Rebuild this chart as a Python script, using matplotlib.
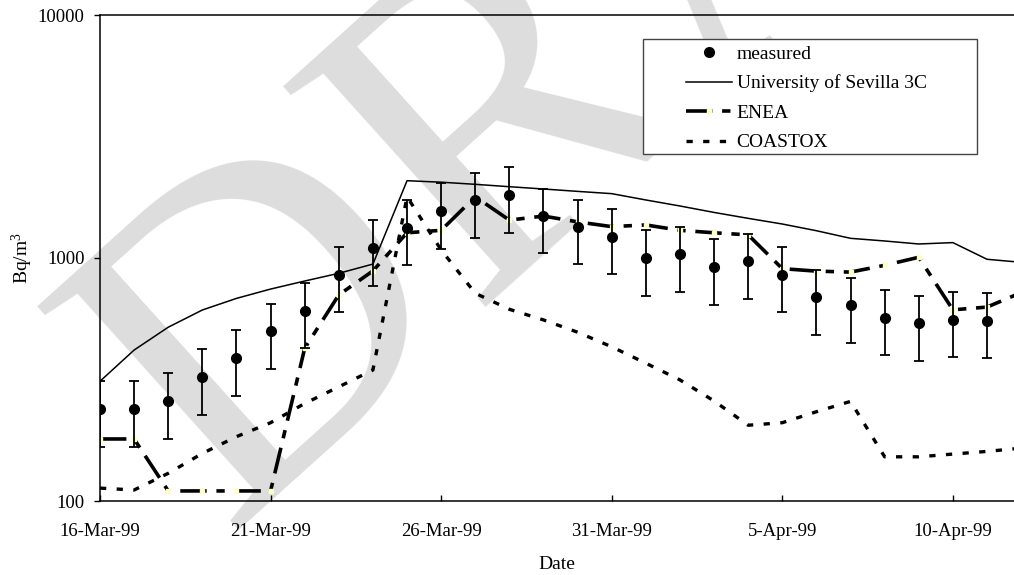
import numpy as np
import pandas as pd
import matplotlib
matplotlib.use("Agg")
import matplotlib.pyplot as plt
import matplotlib.dates as mdates
from matplotlib.patches import Rectangle
from matplotlib.lines import Line2D

plt.rcParams['font.family'] = ['Liberation Serif', 'DejaVu Serif']
plt.rcParams['mathtext.default'] = 'regular'
plt.rcParams['lines.scale_dashes'] = False

# daily model output, 16-Mar-99 .. 12-Apr-99
model_dates = pd.date_range('1999-03-16', '1999-04-12', freq='D')
sevilla = [311, 418, 519, 611, 682, 745, 804, 865, 944, 2080, 2051, 2010, 1965, 1923,
           1880, 1840, 1733, 1637, 1540, 1456, 1380, 1295, 1205, 1175, 1142, 1157, 988, 960]
enea = [180, 180, 110, 110, 110, 110, 425, 705, 885, 1270, 1300, 1787, 1432, 1488,
        1408, 1346, 1368, 1300, 1270, 1245, 904, 883, 875, 933, 1007, 612, 628, 720]
coastox = [113, 111, 130, 157, 184, 210, 252, 295, 346, 1787, 1079, 716, 615, 556,
           495, 431, 369, 315, 258, 205, 210, 233, 257, 152, 152, 156, 160, 165]

# measurements with error bars, 16-Mar-99 .. 11-Apr-99
meas_dates = pd.date_range('1999-03-16', '1999-04-11', freq='D')
measured = [239, 239, 258, 324, 389, 499, 607, 855, 1102, 1331, 1560, 1725, 1816, 1486,
            1340, 1222, 998, 1037, 920, 968, 853, 689, 638, 567, 538, 558, 551]
meas_err = [72, 72, 78, 98, 118, 150, 182, 256, 333, 399, 470, 515, 543, 441,
            399, 365, 301, 309, 278, 291, 254, 207, 193, 170, 162, 168, 164]

tick_dates = pd.date_range('1999-03-16', periods=6, freq='5D')

fig = plt.figure(figsize=(10.14, 5.75), dpi=100)
ax = fig.add_axes([100 / 1014, 1 - 501 / 575, 1 - 100 / 1014, (501 - 15) / 575])
ax.set_facecolor('none')

# grey DRAFT watermark behind everything
fig.text(225 / 1014, 1 - 530 / 575, 'DRAFT', fontsize=330, color='#dddddd',
         family='Liberation Serif', rotation=42, rotation_mode='anchor',
         ha='left', va='baseline', zorder=-5)

ax.plot(model_dates, sevilla, '-', color='black', lw=1.1, zorder=3)
ax.plot(model_dates, enea, color='black', lw=2.6, dashes=(19, 7, 6, 7),
        marker='s', ms=2.2, mfc='#ffffc8', mec='#ffffc8', zorder=3)
ax.plot(model_dates, coastox, color='black', lw=2.4, dashes=(4.5, 7.5), zorder=3)
ax.errorbar(meas_dates, measured, yerr=meas_err, fmt='o', color='black', ms=7,
            elinewidth=1.3, capsize=3.4, capthick=1.3, zorder=4)

ax.set_yscale('log')
ax.set_ylim(100, 10000)
ax.set_yticks([100, 1000, 10000])
ax.set_yticklabels(['100', '1000', '10000'])
ax.yaxis.set_minor_locator(matplotlib.ticker.NullLocator())
ax.set_xlim(pd.Timestamp('1999-03-16'), pd.Timestamp('1999-04-11 19:00'))
ax.set_xticks(tick_dates)
ax.xaxis.set_major_formatter(mdates.DateFormatter('%-d-%b-%y'))

ax.tick_params(axis='y', direction='out', length=4, width=1, pad=7, labelsize=13.5)
ax.tick_params(axis='x', direction='in', length=4, width=1, pad=16, labelsize=13.5)
ax.spines['right'].set_visible(False)
for s in ['top', 'bottom', 'left']:
    ax.spines[s].set_linewidth(1.1)

ax.set_xlabel('Date', fontsize=14)
ax.xaxis.set_label_coords(0.5, -0.113)
ax.set_ylabel('Bq/m$^3$', fontsize=14)
ax.yaxis.set_label_coords(-0.071, 0.5)

# legend box drawn by hand so the side padding matches
ax.add_patch(Rectangle((0.594, 0.714), 0.3654, 0.2366, transform=ax.transAxes,
                       facecolor='white', edgecolor='#444444', lw=1.0, zorder=6))
handles = [
    Line2D([], [], ls='none', marker='o', color='black', ms=7),
    Line2D([], [], color='black', lw=1.1),
    Line2D([], [], color='black', lw=2.6, dashes=(19, 7, 6, 7), marker='s', ms=2.2,
           mfc='#ffffc8', mec='#ffffc8'),
    Line2D([], [], color='black', lw=2.4, dashes=(4.5, 7.5)),
]
labels = ['measured', 'University of Sevilla 3C', 'ENEA', 'COASTOX']
leg = ax.legend(handles, labels, loc='upper left', bbox_to_anchor=(0.641, 0.938),
                frameon=False, borderpad=0, borderaxespad=0, fontsize=14,
                handlelength=2.36, handletextpad=0.25, labelspacing=0.61, numpoints=1)
leg.set_zorder(7)

fig.savefig('out.png', dpi=100)
